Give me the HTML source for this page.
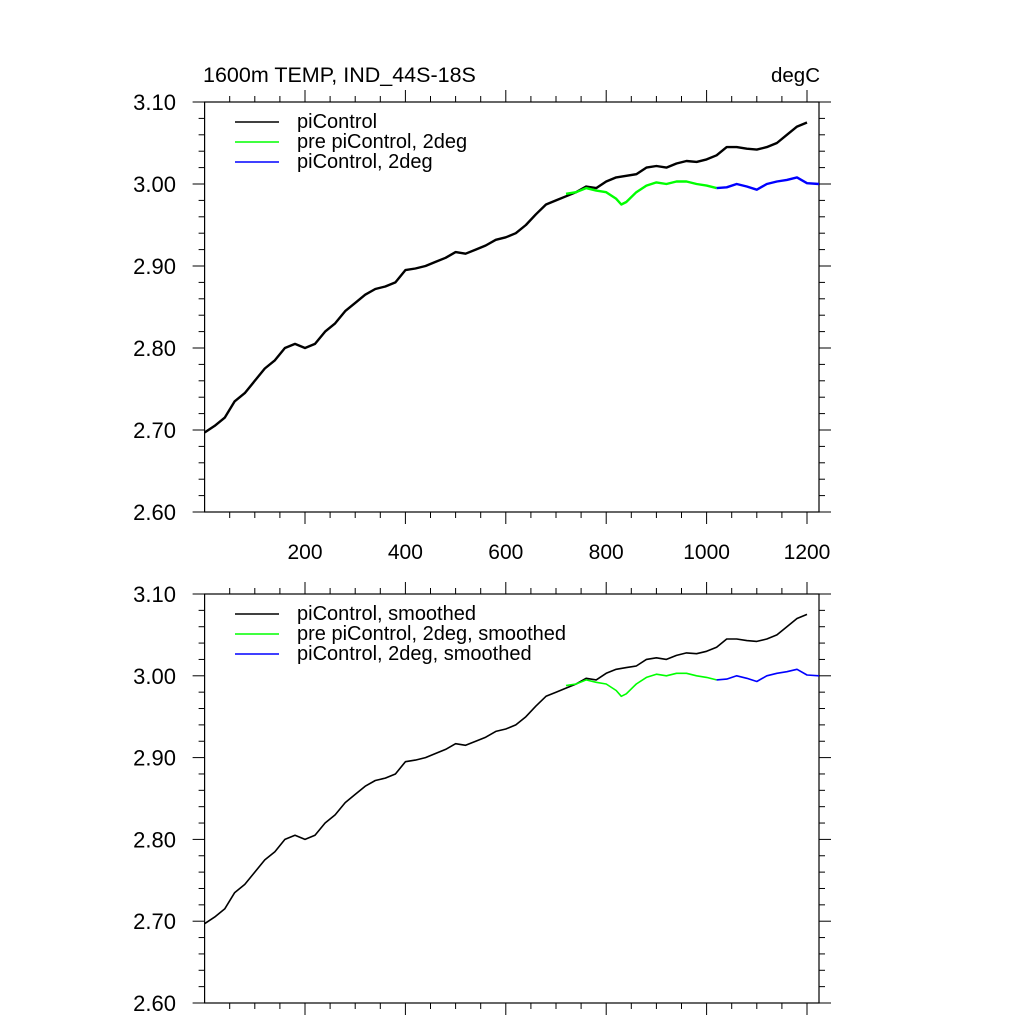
<!DOCTYPE html>
<html><head><meta charset="utf-8"><style>
body{margin:0;background:#fff;}
svg text{font-family:"Liberation Sans",sans-serif;fill:#000;}
</style></head><body>
<svg id="chart" width="1024" height="1024" viewBox="0 0 1024 1024" xmlns="http://www.w3.org/2000/svg">
<text x="203" y="82" font-size="21.5">1600m TEMP, IND_44S-18S</text>
<text x="820" y="82" font-size="20.5" text-anchor="end">degC</text>
</svg>
<script>
const blackYears=[0,20,40,60,80,100,120,140,160,180,200,220,240,260,280,300,320,340,360,380,400,420,440,460,480,500,520,540,560,580,600,620,640,660,680,700,720,740,760,780,800,820,840,860,880,900,920,940,960,980,1000,1020,1040,1060,1080,1100,1120,1140,1160,1180,1200];
const blackVals=[2.697,2.705,2.715,2.735,2.745,2.76,2.775,2.785,2.80,2.805,2.80,2.805,2.82,2.83,2.845,2.855,2.865,2.872,2.875,2.88,2.895,2.897,2.90,2.905,2.91,2.917,2.915,2.92,2.925,2.932,2.935,2.94,2.95,2.963,2.975,2.98,2.985,2.99,2.997,2.995,3.003,3.008,3.01,3.012,3.02,3.022,3.02,3.025,3.028,3.027,3.03,3.035,3.045,3.045,3.043,3.042,3.045,3.05,3.06,3.07,3.075];
const greenYears=[720,740,760,780,800,820,830,840,860,880,900,920,940,960,980,1000,1020];
const greenVals=[2.988,2.99,2.995,2.992,2.99,2.982,2.975,2.978,2.99,2.998,3.002,3.0,3.003,3.003,3.0,2.998,2.995];
const blueYears=[1020,1040,1060,1080,1100,1120,1140,1160,1180,1200,1224];
const blueVals=[2.995,2.996,3.0,2.997,2.993,3.0,3.003,3.005,3.008,3.001,3.0];
const yTicks=[2.60,2.70,2.80,2.90,3.00,3.10];
const xTicks=[200,400,600,800,1000,1200];
const NS="http://www.w3.org/2000/svg";
const svg=document.getElementById('chart');
function mk(tag,attrs,parent){const e=document.createElementNS(NS,tag);for(const k in attrs)e.setAttribute(k,attrs[k]);(parent||svg).appendChild(e);return e;}
const X0=204.6,XR=819,PX=0.502;
const xs=v=>X0+v*PX;
function panel(top,bottom,showXLabels,legend,pname,sw){
  const g=mk('g',{});
  
  
  const ys=v=>bottom-(v-2.6)/0.5*(bottom-top);
  const f=mk('rect',{x:X0,y:top,width:XR-X0,height:bottom-top,fill:'none',stroke:'#000','stroke-width':1.2},g);
  
  
  for(let v=2.6;v<=3.1001;v+=0.02){
    const major=Math.abs(Math.round(v*10)-v*10)<1e-6;const L=major?12:6;const y=ys(v);
    mk('line',{x1:X0-L,x2:X0,y1:y,y2:y,stroke:'#000'},g);
    mk('line',{x1:XR,x2:XR+L,y1:y,y2:y,stroke:'#000'},g);
  }
  yTicks.forEach(v=>{const t=mk('text',{x:176,y:ys(v)+8,'font-size':22,'text-anchor':'end'},g);t.textContent=v.toFixed(2);
    
    });
  for(let v=50;v<=1250;v+=50){
    const major=v%200===0;const L=major?12:6;const x=xs(v);if(x>XR)continue;
    mk('line',{x1:x,x2:x,y1:top-L,y2:top,stroke:'#000'},g);
    mk('line',{x1:x,x2:x,y1:bottom,y2:bottom+L,stroke:'#000'},g);
  }
  if(showXLabels) xTicks.forEach(v=>{const t=mk('text',{x:xs(v),y:bottom+47,'font-size':21,'text-anchor':'middle'},g);t.textContent=v;
    
    });
  const series=[[blackYears,blackVals,'#000','black-series'],[greenYears,greenVals,'#00ff00','green-series'],[blueYears,blueVals,'#0000ff','blue-series']];
  series.forEach(([xa,ya,c,n])=>{
    const p=mk('path',{d:xa.map((x,i)=>(i?'L':'M')+xs(x).toFixed(1)+' '+ys(ya[i]).toFixed(1)).join(''),fill:'none',stroke:c,'stroke-width':sw,'stroke-linejoin':'round'},g);
    
    
  });
  const cols=['#000','#00ff00','#0000ff'];
  legend.forEach((lab,i)=>{const y=top+20+i*20;
    mk('line',{x1:235,x2:279,y1:y,y2:y,stroke:cols[i],'stroke-width':1.5},g);
    const t=mk('text',{x:297,y:y+6,'font-size':20},g);t.textContent=lab;
    
    });
}
panel(102,512,true,['piControl','pre piControl, 2deg','piControl, 2deg'],'top-panel',2.4);
panel(594,1003,false,['piControl, smoothed','pre piControl, 2deg, smoothed','piControl, 2deg, smoothed'],'bottom-panel',1.6);
</script>
</body></html>
